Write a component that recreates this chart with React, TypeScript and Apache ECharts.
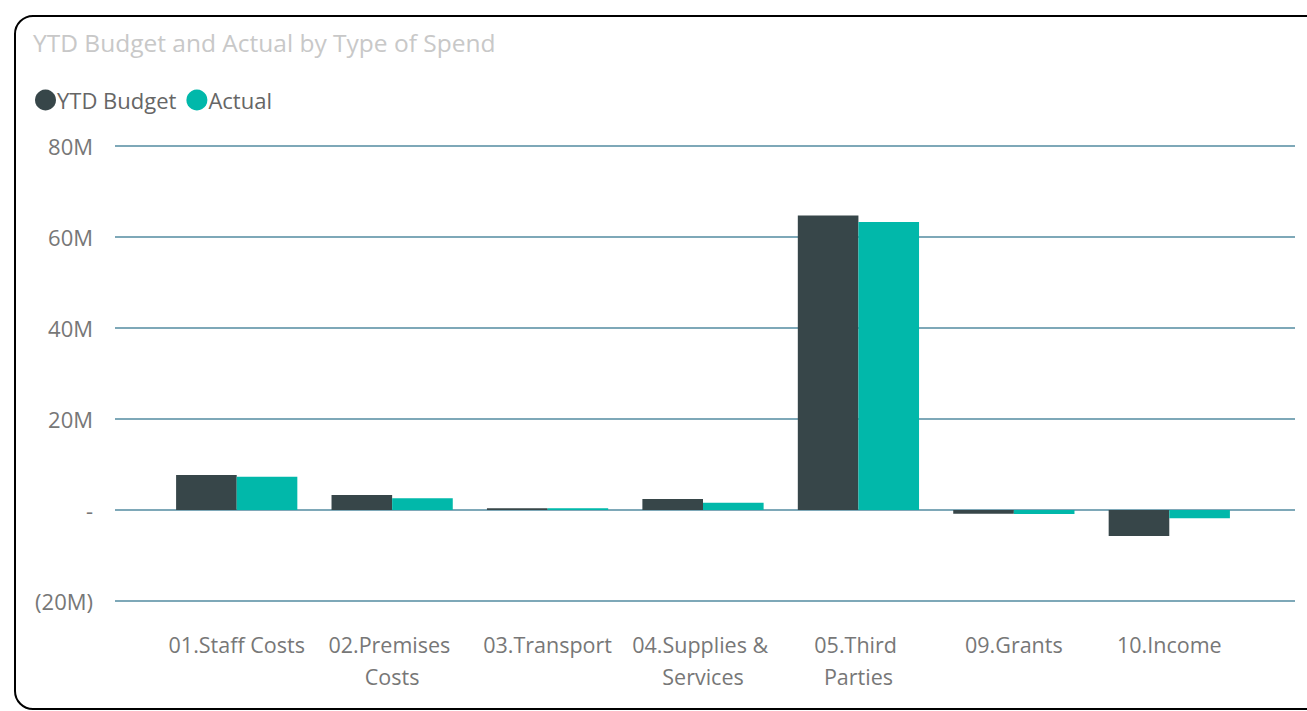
import React, { useEffect, useRef } from "react";
import * as echarts from "echarts";

const categories = [
  "01.Staff Costs",
  "02.Premises Costs",
  "03.Transport",
  "04.Supplies & Services",
  "05.Third Parties",
  "09.Grants",
  "10.Income",
];
const budget = [7.7, 3.3, 0.4, 2.4, 64.7, -0.8, -5.7];
const actual = [7.3, 2.6, 0.4, 1.6, 63.3, -0.9, -1.8];
const yMin = -20;
const yMax = 80;
const yStep = 20;

const FONT = "'Segoe UI', 'Open Sans', 'Noto Sans', sans-serif";

const fmt = (v: number) => (v === 0 ? "-" : v < 0 ? `(${Math.abs(v)}M)` : `${v}M`);

export default function App() {
  const ref = useRef<HTMLDivElement>(null);
  useEffect(() => {
    document.body.style.margin = "0";
    const chart = echarts.init(ref.current!, null, { renderer: "svg" });
    chart.setOption({
      animation: false,
      textStyle: { fontFamily: FONT },
      title: {
        text: "YTD Budget and Actual by Type of Spend",
        left: 28,
        top: 25,
        textStyle: { fontSize: 24.5, fontWeight: "normal", color: "#c8c8c8", fontFamily: FONT },
      },
      legend: {
        left: 30,
        top: 84,
        icon: "circle",
        itemWidth: 21,
        itemHeight: 21,
        itemGap: 10,
        textStyle: { fontSize: 22, color: "#666666", padding: [0, 0, 0, -4], fontFamily: FONT },
        data: ["YTD Budget", "Actual"],
      },
      grid: [
        { left: 115, right: 12, top: 146, bottom: 110 },
        { left: 159, right: 60, top: 146, bottom: 110 },
      ],
      xAxis: [
        { type: "category", gridIndex: 0, data: categories, show: false },
        {
          type: "category",
          gridIndex: 1,
          data: categories,
          axisLine: { show: false },
          axisTick: { show: false },
          axisLabel: {
            color: "#777777",
            fontSize: 21.5,
            margin: 27,
            lineHeight: 32,
            width: 146,
            overflow: "break",
            interval: 0,
            fontFamily: FONT,
          },
        },
      ],
      yAxis: [
        {
          type: "value",
          gridIndex: 0,
          min: yMin,
          max: yMax,
          interval: yStep,
          axisLine: { show: false },
          axisTick: { show: false },
          axisLabel: { color: "#777777", fontSize: 22, margin: 22, formatter: fmt, fontFamily: FONT },
          splitLine: { lineStyle: { color: "#7ea8b8", width: 2 } },
        },
        {
          type: "value",
          gridIndex: 1,
          min: yMin,
          max: yMax,
          interval: yStep,
          show: false,
          splitLine: { show: false },
        },
      ],
      series: [
        {
          name: "YTD Budget",
          type: "bar",
          xAxisIndex: 1,
          yAxisIndex: 1,
          data: budget,
          barGap: "0%",
          barCategoryGap: "22%",
          itemStyle: { color: "#374649" },
        },
        {
          name: "Actual",
          type: "bar",
          xAxisIndex: 1,
          yAxisIndex: 1,
          data: actual,
          barGap: "0%",
          barCategoryGap: "22%",
          itemStyle: { color: "#01B8AA" },
        },
      ],
      graphic: [
        {
          type: "rect",
          shape: { x: 15, y: 16, width: 1310, height: 693, r: 18 },
          style: { fill: "none", stroke: "#000000", lineWidth: 2 },
          silent: true,
        },
      ],
    });
    return () => chart.dispose();
  }, []);
  return (
    <div style={{ width: 1307, height: 711, overflow: "hidden" }}>
      <div ref={ref} style={{ width: 1307, height: 711 }} />
    </div>
  );
}
